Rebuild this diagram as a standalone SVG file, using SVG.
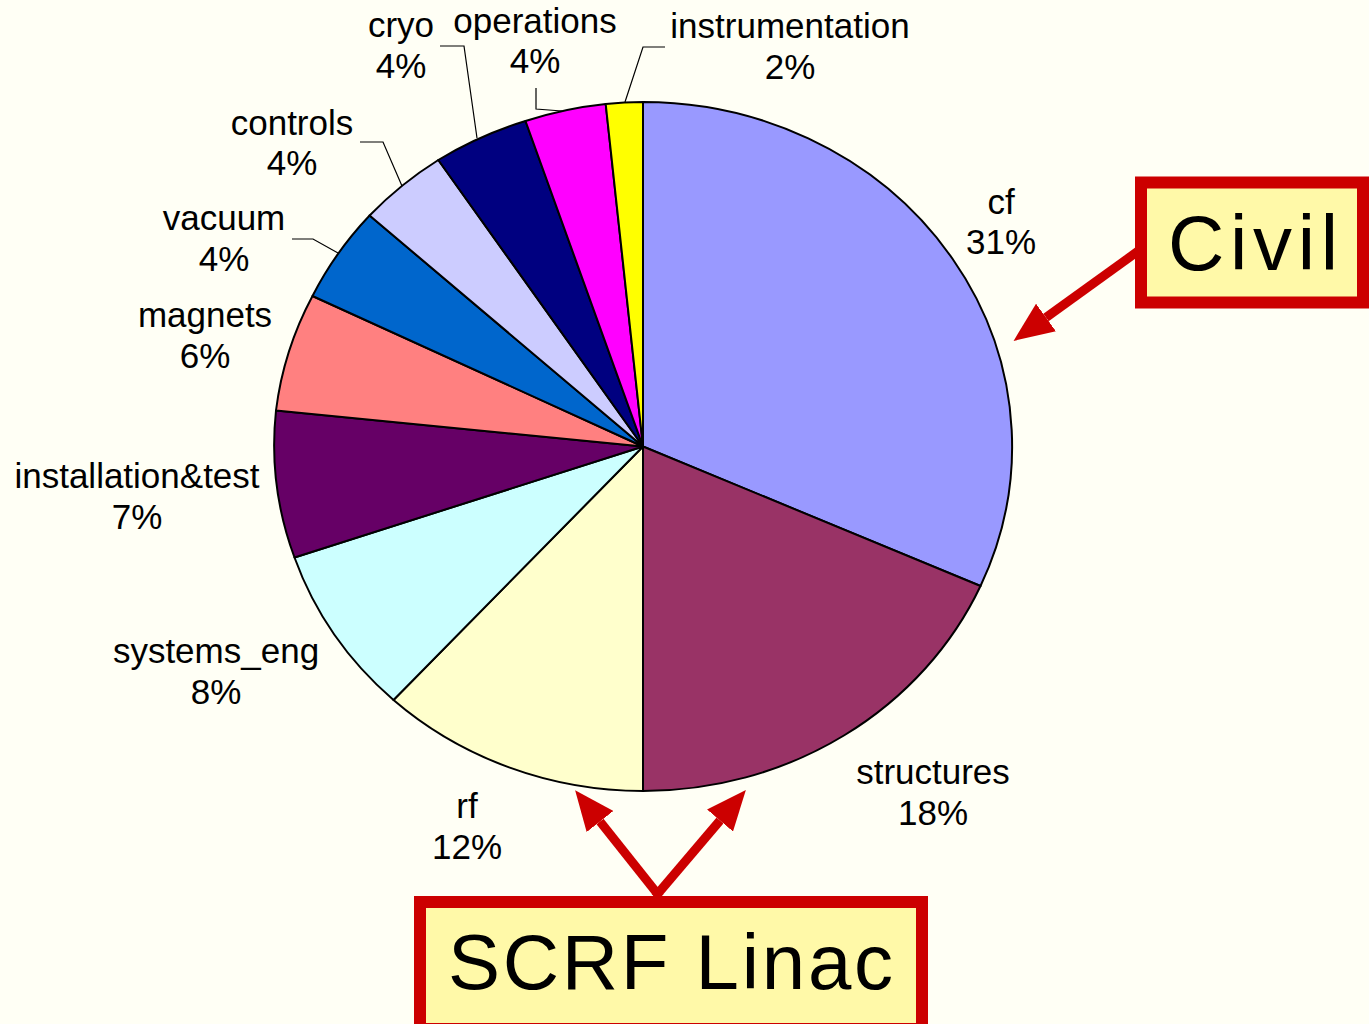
<svg xmlns="http://www.w3.org/2000/svg" width="1369" height="1024" viewBox="0 0 1369 1024">
<defs>
<style>
.lbl{font-family:"Liberation Sans",Arial,sans-serif;font-size:35px;fill:#000;text-anchor:middle}
.big{font-family:"Liberation Sans",Arial,sans-serif;font-size:78px;fill:#000}
.sl{stroke:#000;stroke-width:2;stroke-linejoin:round}
.lead{fill:none;stroke:#000;stroke-width:1.2}
.arr{fill:none;stroke:#CC0000;stroke-width:9}
.box{fill:#FFF9A8;stroke:#CC0000;stroke-width:12}
</style>
<marker id="ah" markerUnits="userSpaceOnUse" viewBox="0 0 40 34" markerWidth="40" markerHeight="34" refX="0" refY="17" orient="auto">
<path d="M0,0 L40,17 L0,34 z" fill="#CC0000"/>
</marker>
</defs>
<rect width="1369" height="1024" fill="#FFFFF5"/>
<g id="pie">
<g id="slice-cf"><path class="sl" fill="#9999FF" d="M643,446.5 L643,102 A369,344.5 0 0 1 980.5,586 Z"/></g>
<g id="slice-structures"><path class="sl" fill="#993366" d="M643,446.5 L980.5,586 A369,344.5 0 0 1 643,791 Z"/></g>
<g id="slice-rf"><path class="sl" fill="#FFFFCC" d="M643,446.5 L643,791 A369,344.5 0 0 1 393.5,700 Z"/></g>
<g id="slice-systems_eng"><path class="sl" fill="#CCFFFF" d="M643,446.5 L393.5,700 A369,344.5 0 0 1 294.5,557.5 Z"/></g>
<g id="slice-installation"><path class="sl" fill="#660066" d="M643,446.5 L294.5,557.5 A369,344.5 0 0 1 276,410.5 Z"/></g>
<g id="slice-magnets"><path class="sl" fill="#FF8080" d="M643,446.5 L276,410.5 A369,344.5 0 0 1 312.5,296 Z"/></g>
<g id="slice-vacuum"><path class="sl" fill="#0066CC" d="M643,446.5 L312.5,296 A369,344.5 0 0 1 369.6,215.5 Z"/></g>
<g id="slice-controls"><path class="sl" fill="#CCCCFF" d="M643,446.5 L369.6,215.5 A369,344.5 0 0 1 438.3,160 Z"/></g>
<g id="slice-cryo"><path class="sl" fill="#000080" d="M643,446.5 L438.3,160 A369,344.5 0 0 1 525.5,121 Z"/></g>
<g id="slice-operations"><path class="sl" fill="#FF00FF" d="M643,446.5 L525.5,121 A369,344.5 0 0 1 605.7,104 Z"/></g>
<g id="slice-instrumentation"><path class="sl" fill="#FFFF00" d="M643,446.5 L605.7,104 A369,344.5 0 0 1 643,102 Z"/></g>
</g>
<g id="labels">
<g id="lbl-cf"><text class="lbl" x="1001" y="214">cf</text><text class="lbl" x="1001" y="254">31%</text></g>
<g id="lbl-structures"><text class="lbl" x="933" y="784">structures</text><text class="lbl" x="933" y="825">18%</text></g>
<g id="lbl-rf"><text class="lbl" x="467" y="818">rf</text><text class="lbl" x="467" y="859">12%</text></g>
<g id="lbl-systems_eng"><text class="lbl" x="216" y="663">systems_eng</text><text class="lbl" x="216" y="704">8%</text></g>
<g id="lbl-installation"><text class="lbl" x="137" y="488">installation&amp;test</text><text class="lbl" x="137" y="529">7%</text></g>
<g id="lbl-magnets"><text class="lbl" x="205" y="327">magnets</text><text class="lbl" x="205" y="368">6%</text></g>
<g id="lbl-vacuum"><text class="lbl" x="224" y="230">vacuum</text><text class="lbl" x="224" y="271">4%</text></g>
<g id="lbl-controls"><text class="lbl" x="292" y="135">controls</text><text class="lbl" x="292" y="175">4%</text></g>
<g id="lbl-cryo"><text class="lbl" x="401" y="37">cryo</text><text class="lbl" x="401" y="78">4%</text></g>
<g id="lbl-operations"><text class="lbl" x="535" y="33">operations</text><text class="lbl" x="535" y="73">4%</text></g>
<g id="lbl-instrumentation"><text class="lbl" x="790" y="38">instrumentation</text><text class="lbl" x="790" y="79">2%</text></g>
</g>
<g id="connectors">
<polyline class="lead" points="625,102 643,47 665,47"/>
<polyline class="lead" points="536,88 536,109 562,111"/>
<polyline class="lead" points="440,46 464,46 477,138"/>
<polyline class="lead" points="360,142 383,142 402,186"/>
<polyline class="lead" points="292,239 313,239 338,253"/>
<line class="arr" x1="1141" y1="249" x2="1046" y2="317.5" marker-end="url(#ah)"/>
<line class="arr" x1="660" y1="897" x2="600" y2="821.5" marker-end="url(#ah)"/>
<line class="arr" x1="655" y1="897" x2="720" y2="820.5" marker-end="url(#ah)"/>
</g>
<g id="civil">
<rect class="box" x="1141" y="182.5" width="222" height="120"/>
<text class="big" x="1168" y="270" textLength="170" lengthAdjust="spacing">Civil</text>
</g>
<g id="scrf">
<rect class="box" x="420" y="902" width="502" height="127"/>
<text class="big" x="448" y="989" textLength="445" lengthAdjust="spacing">SCRF Linac</text>
</g>
</svg>
